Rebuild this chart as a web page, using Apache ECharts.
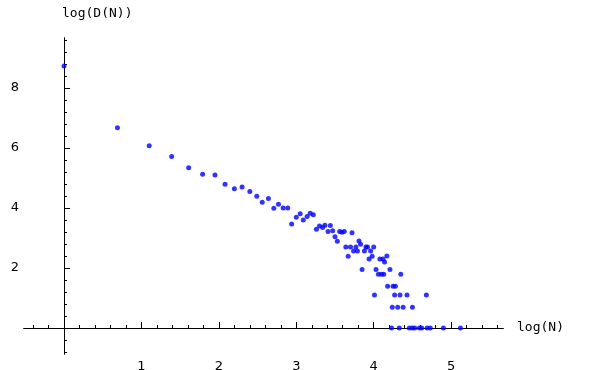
<!DOCTYPE html>
<html>
<head>
<meta charset="utf-8">
<script src="https://cdn.jsdelivr.net/npm/echarts@6/dist/echarts.min.js"></script>
<style>html,body{margin:0;padding:0;background:#fff}#c{width:600px;height:370px}</style>
</head>
<body>
<div id="c"></div>
<script>
// log(N) values of the plotted points
var logN = [0, 0.69, 1.10, 1.39, 1.61, 1.79, 1.95, 2.08, 2.20, 2.30, 2.40, 2.49, 2.56, 2.64, 2.71, 2.77, 2.83, 2.89,
  2.94, 3.00, 3.05, 3.09, 3.14, 3.18, 3.22, 3.26, 3.30, 3.34, 3.37, 3.41, 3.44, 3.47, 3.50, 3.53, 3.56, 3.59, 3.62,
  3.64, 3.67, 3.70, 3.72, 3.74, 3.77, 3.79, 3.81, 3.83, 3.85, 3.88, 3.90, 3.92, 3.94, 3.96, 3.98, 4.00,
  4.01, 4.03, 4.06, 4.10, 4.13, 4.08, 4.12, 4.14, 4.17, 4.21, 4.35, 4.18, 4.25, 4.28, 4.27, 4.34, 4.43, 4.68,
  4.24, 4.31, 4.38, 4.50,
  4.23, 4.33, 4.46, 4.50, 4.53, 4.59, 4.62, 4.69, 4.73, 4.90, 5.12];
// log(D(N)) values of the plotted points
var logD = [8.74, 6.68, 6.08, 5.72, 5.34, 5.13, 5.10, 4.79, 4.64, 4.70, 4.55, 4.39, 4.19, 4.32, 3.99, 4.13, 4.00, 4.00,
  3.47, 3.69, 3.81, 3.60, 3.72, 3.83, 3.78, 3.29, 3.40, 3.35, 3.43, 3.22, 3.42, 3.24, 3.04, 2.89, 3.22, 3.19, 3.22,
  2.70, 2.39, 2.70, 3.18, 2.57, 2.70, 2.57, 2.90, 2.79, 1.95, 2.57, 2.70, 2.70, 2.30, 2.57, 2.39, 2.70,
  1.10, 1.95, 1.79, 1.79, 1.79, 2.30, 2.30, 2.20, 2.40, 1.95, 1.79, 1.39, 1.39, 1.39, 1.10, 1.10, 1.10, 1.10,
  0.69, 0.69, 0.69, 0.69,
  0, 0, 0, 0, 0, 0, 0, 0, 0, 0, 0];
var xMajor = [1, 2, 3, 4, 5];
var yMajor = [2, 4, 6, 8];
var xMinor = [-0.4, -0.2, 0.2, 0.4, 0.6, 0.8, 1.2, 1.4, 1.6, 1.8, 2.2, 2.4, 2.6, 2.8, 3.2, 3.4, 3.6, 3.8, 4.2, 4.4, 4.6, 4.8, 5.2, 5.4, 5.6];
var yMinor = [-0.8, -0.4, 0.4, 0.8, 1.2, 1.6, 2.4, 2.8, 3.2, 3.6, 4.4, 4.8, 5.2, 5.6, 6.4, 6.8, 7.2, 7.6, 8.4, 8.8, 9.2, 9.6];
var xName = 'log(N)';
var yName = 'log(D(N))';

var pts = logN.map(function (x, i) { return [x, logD[i]]; });
var XMIN = -0.517, XMAX = 5.67, YMIN = -0.867, YMAX = 9.67;
var lab = {color: '#000', fontSize: 13, fontFamily: 'DejaVu Sans'};
var nameStyle = {color: '#000', fontSize: 13, fontFamily: 'DejaVu Sans Mono'};
var line = {onZero: true, lineStyle: {color: '#000', width: 1}};

function tickAxis(min, max, pos, vals, len) {
  return {
    type: 'value', min: min, max: max, position: pos, axisLine: line,
    axisTick: {show: true, inside: true, length: len, customValues: vals, lineStyle: {color: '#000', width: 1}},
    axisLabel: {show: false}, splitLine: {show: false}
  };
}

var chart = echarts.init(document.getElementById('c'));
chart.setOption({
  animation: false,
  grid: {left: 24, top: 38, width: 479, height: 316, outerBoundsMode: 'none'},
  xAxis: [{
    type: 'value', min: XMIN, max: XMAX, position: 'bottom', axisLine: line,
    axisTick: {show: false},
    axisLabel: Object.assign({customValues: xMajor, margin: 6}, lab), splitLine: {show: false},
    name: xName, nameLocation: 'end', nameGap: 14, nameTextStyle: nameStyle
  }, tickAxis(XMIN, XMAX, 'bottom', xMinor, 3), tickAxis(XMIN, XMAX, 'bottom', xMajor, 6)],
  yAxis: [{
    type: 'value', min: YMIN, max: YMAX, position: 'left', axisLine: line,
    axisTick: {show: false},
    axisLabel: Object.assign({customValues: yMajor, margin: 5}, lab), splitLine: {show: false},
    name: yName, nameLocation: 'end', nameGap: 18,
    nameTextStyle: Object.assign({align: 'left', padding: [0, 0, 0, -2]}, nameStyle)
  }, tickAxis(YMIN, YMAX, 'left', yMinor, 3), tickAxis(YMIN, YMAX, 'left', yMajor, 6)],
  series: [{
    type: 'scatter', xAxisIndex: 0, yAxisIndex: 0,
    data: pts, symbol: 'circle', symbolSize: 5,
    itemStyle: {color: '#0000ff'}
  }]
});
</script>
</body>
</html>
